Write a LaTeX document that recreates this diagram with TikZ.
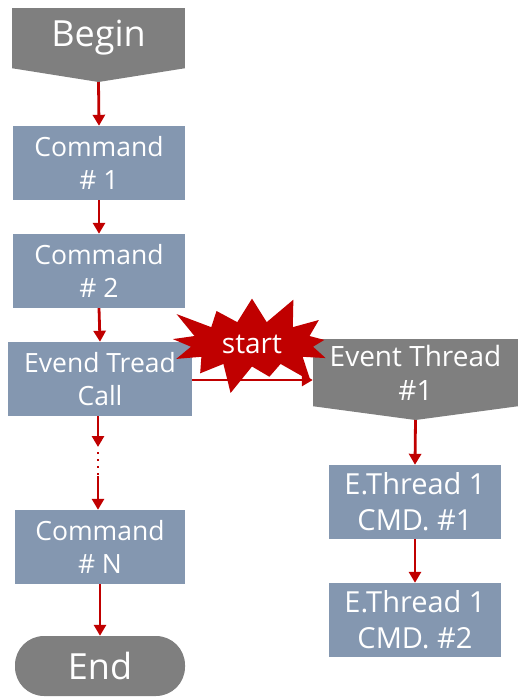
\documentclass[tikz,border=0pt]{standalone}
\usepackage{fontspec}
\setmainfont{Open Sans}
\usetikzlibrary{arrows.meta,shapes.symbols,calc}
\definecolor{flowred}{HTML}{C00000}
\definecolor{termgray}{HTML}{7F7F7F}
\definecolor{cmdblue}{HTML}{8497B0}

\begin{document}
\begin{tikzpicture}[
  x=1pt,
  y=-1pt,
  line join=round,
  term/.style={fill=termgray,draw=none,inner sep=0pt,text=white,
    font=\fontsize{36}{40}\selectfont},
  headbox/.style={fill=termgray,draw=none,inner sep=0pt,text=white,align=center,
    font=\fontsize{28}{34}\selectfont},
  cmd/.style={fill=cmdblue,draw=none,inner sep=0pt,text=white,align=center,
    minimum width=172pt,minimum height=74pt,
    font=\fontsize{26.5}{33}\selectfont},
  threadcmd/.style={cmd,font=\fontsize{29}{36}\selectfont},
  flow/.style={draw=flowred,line width=2.8pt,-{Triangle[length=11pt,width=12pt]}},
  burst/.style={starburst,fill=flowred,draw=none,text=white,
    starburst points=13,starburst point height=32pt,
    minimum width=187pt,minimum height=109pt,
    font=\fontsize{28}{30}\selectfont}
]
  \useasboundingbox (0,0) rectangle (520,697);

  % Main thread, top to bottom.
  \node[term,minimum width=173pt,minimum height=60pt] (begin) at (98.5,38) {\raisebox{-3pt}{Begin}};
  \coordinate (begintip) at (98.5,82);
  \fill[termgray] (begin.south west) -- (begintip) -- (begin.south east) -- cycle;

  \node[cmd] (cmd1) at (99,163) {Command\\\# 1};
  \node[cmd] (cmd2) at (99,271) {Command\\\# 2};
  \node[cmd,minimum width=184pt] (call) at (100,379) {Evend Tread\\Call};
  \node[cmd,minimum width=170pt] (cmdN) at (100,547) {Command\\\# N};
  \node[term,rounded corners=29pt,minimum width=170pt,minimum height=60pt] (end) at (100,666) {End};

  % Event thread, right column.
  \node[headbox,minimum width=205pt,minimum height=67pt,text depth=0pt] (event) at (415.5,372.5) {Event Thread\\\#1};
  \coordinate (eventtip) at (415.5,420);
  \fill[termgray] (event.south west) -- (eventtip) -- (event.south east) -- cycle;

  \node[threadcmd] (et1) at (415,502) {E.Thread 1\\CMD. \#1};
  \node[threadcmd] (et2) at (415,620) {E.Thread 1\\CMD. \#2};

  % Connectors.
  \draw[flow] (begintip) -- (cmd1.north);
  \draw[flow] (cmd1.south) -- (cmd2.north);
  \draw[flow] (cmd2.south) -- (call.north);
  \coordinate (gapa) at (98,447);
  \coordinate (gapb) at (98,476);
  \draw[flow] (call.south -| gapa) -- (gapa);
  \draw[flowred,line width=2.8pt,dash pattern=on 2pt off 5pt] ($(gapa)+(0,5)$) -- (gapb);
  \draw[flow] (gapb) -- (cmdN.north -| gapb);
  \draw[flow] (cmdN.south) -- (end.north);

  % Thread start marker sits over the hand-off arrow.
  \node[burst] (start) at (252,344) {start};
  \draw[flow] (call.east |- 0,380) -- (event.west |- 0,380);

  \draw[flow] (eventtip) -- (et1.north);
  \draw[flow] (et1.south) -- (et2.north);
\end{tikzpicture}
\end{document}
